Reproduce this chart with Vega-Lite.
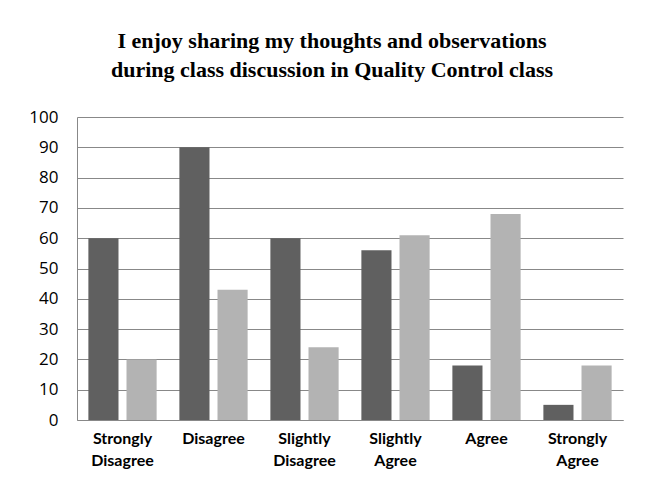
{
  "$schema": "https://vega.github.io/schema/vega-lite/v6.json",
  "autosize": "none",
  "width": 546,
  "height": 303,
  "padding": {"left": 77, "top": 117, "right": 23, "bottom": 80},
  "background": "white",
  "title": {
    "text": ["I enjoy sharing my thoughts and observations", "during class discussion in Quality Control class"],
    "font": "Liberation Serif",
    "fontSize": 22,
    "fontWeight": "bold",
    "color": "#000000",
    "lineHeight": 29,
    "anchor": "middle",
    "dx": -18,
    "offset": 26
  },
  "data": {
    "values": [
      {"category": "Strongly Disagree", "group": "1", "value": 60},
      {"category": "Strongly Disagree", "group": "2", "value": 20},
      {"category": "Disagree", "group": "1", "value": 90},
      {"category": "Disagree", "group": "2", "value": 43},
      {"category": "Slightly Disagree", "group": "1", "value": 60},
      {"category": "Slightly Disagree", "group": "2", "value": 24},
      {"category": "Slightly Agree", "group": "1", "value": 56},
      {"category": "Slightly Agree", "group": "2", "value": 61},
      {"category": "Agree", "group": "1", "value": 18},
      {"category": "Agree", "group": "2", "value": 68},
      {"category": "Strongly Agree", "group": "1", "value": 5},
      {"category": "Strongly Agree", "group": "2", "value": 18}
    ]
  },
  "mark": {"type": "bar"},
  "encoding": {
    "x": {
      "field": "category",
      "type": "nominal",
      "sort": null,
      "scale": {"paddingInner": 0.25, "paddingOuter": 0.125},
      "axis": {
        "title": null,
        "labelAngle": 0,
        "labelExpr": "split(datum.label, ' ')",
        "labelFont": "Lato",
        "labelFontSize": 16,
        "labelFontWeight": "bold",
        "labelColor": "#000000",
        "labelLineHeight": 22,
        "labelPadding": 10,
        "ticks": false,
        "domainColor": "#888888",
        "grid": false
      }
    },
    "xOffset": {
      "field": "group",
      "type": "nominal",
      "scale": {"paddingInner": 0.21, "paddingOuter": 0}
    },
    "y": {
      "field": "value",
      "type": "quantitative",
      "scale": {"domain": [0, 100], "nice": false},
      "axis": {
        "title": null,
        "values": [0, 10, 20, 30, 40, 50, 60, 70, 80, 90, 100],
        "labelFont": "Open Sans",
        "labelFontSize": 17,
        "labelColor": "#000000",
        "labelPadding": 19,
        "ticks": false,
        "domainColor": "#888888",
        "gridColor": "#888888",
        "gridOpacity": 1,
        "gridWidth": 1
      }
    },
    "color": {
      "field": "group",
      "type": "nominal",
      "scale": {"range": ["#606060", "#b3b3b3"]},
      "legend": null
    }
  },
  "config": {
    "view": {"stroke": null}
  }
}
